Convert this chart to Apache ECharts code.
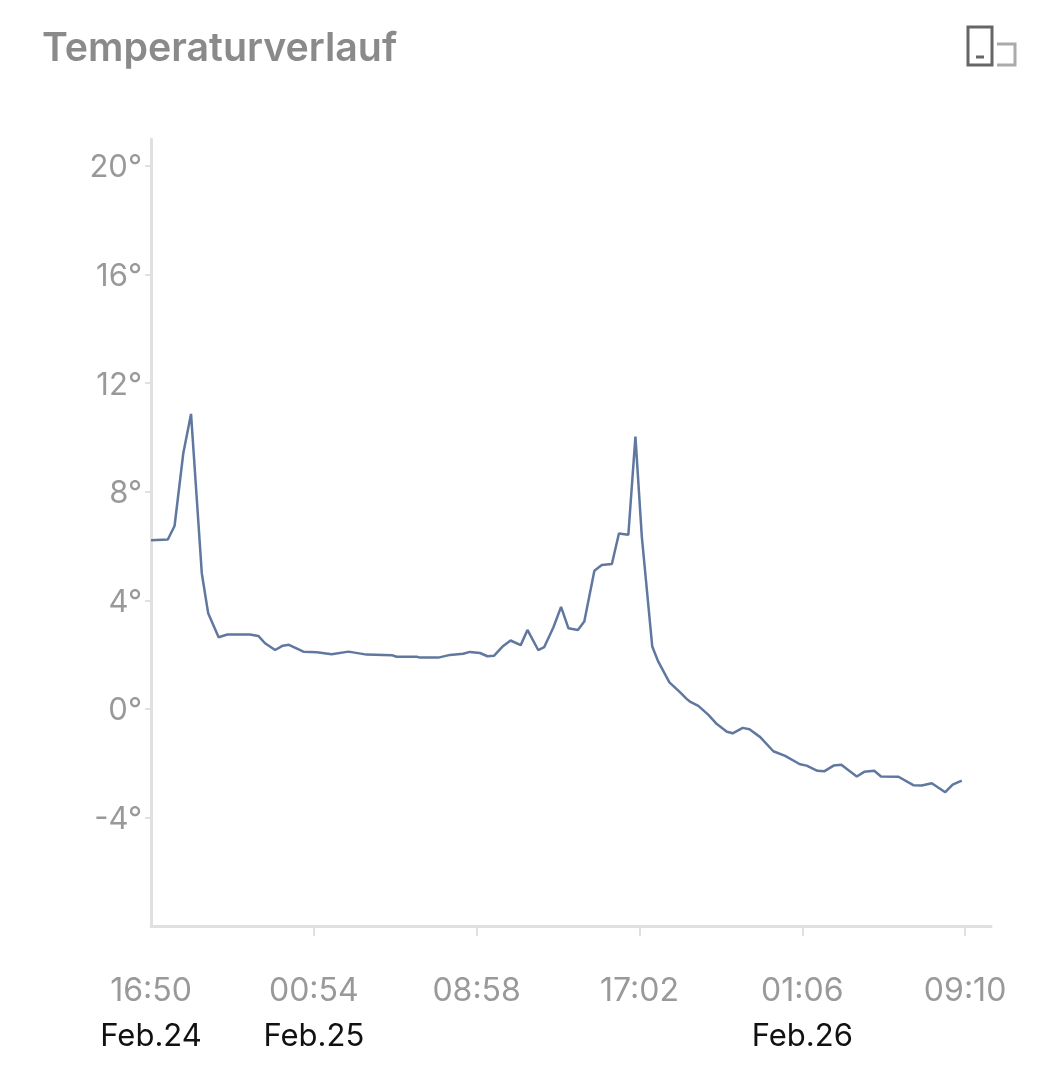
<!DOCTYPE html>
<html>
<head>
<meta charset="utf-8">
<style>
  html, body { margin: 0; padding: 0; background: #fff; }
  #chart { width: 1062px; height: 1080px; }
</style>
<script src="https://cdn.jsdelivr.net/npm/echarts@6/dist/echarts.min.js"></script>
</head>
<body>
<div id="chart"></div>
<script>
  // minutes since the first reading
  var minutes = [0, 50, 70, 96, 119, 151, 170, 201, 227, 294, 319, 339, 369, 392, 410, 453, 493, 537, 587, 641,
    716, 730, 790, 800, 854, 889, 928, 948, 978, 1000, 1020, 1047, 1069, 1099, 1119, 1151, 1169, 1196, 1219, 1241,
    1269, 1288, 1318, 1340, 1370, 1391, 1419, 1440, 1459, 1490, 1508, 1541, 1573, 1593, 1602, 1627, 1657, 1682,
    1712, 1729, 1759, 1779, 1811, 1850, 1885, 1929, 1949, 1981, 2001, 2029, 2052, 2098, 2120, 2150, 2170, 2222,
    2266, 2291, 2321, 2361, 2383, 2410];
  var temps = [6.21, 6.24, 6.74, 9.42, 10.87, 5.0, 3.52, 2.64, 2.74, 2.74, 2.69, 2.42, 2.17, 2.33, 2.36, 2.11, 2.09, 2.01, 2.11, 2.0,
    1.98, 1.92, 1.92, 1.89, 1.89, 1.99, 2.03, 2.1, 2.06, 1.94, 1.96, 2.32, 2.52, 2.35, 2.91, 2.17, 2.28, 3.0, 3.76, 2.97,
    2.91, 3.22, 5.09, 5.3, 5.34, 6.46, 6.42, 10.03, 6.35, 2.3, 1.74, 0.98, 0.61, 0.36, 0.27, 0.11, -0.22, -0.56,
    -0.84, -0.9, -0.7, -0.75, -1.04, -1.56, -1.73, -2.04, -2.09, -2.28, -2.3, -2.09, -2.06, -2.49, -2.32, -2.28, -2.49, -2.5,
    -2.81, -2.82, -2.74, -3.07, -2.79, -2.64];
  var xTicks = [0, 484, 968, 1452, 1936, 2420];
  var timeLabels = ['16:50', '00:54', '08:58', '17:02', '01:06', '09:10'];
  var dateLabels = ['Feb.24', 'Feb.25', '', '', 'Feb.26', ''];
  var yTicks = [-4, 0, 4, 8, 12, 16, 20];

  var font = 'Inter, Roboto, sans-serif';
  var chart = echarts.init(document.getElementById('chart'));

  var series = [];
  for (var i = 0; i < minutes.length; i++) {
    series.push([minutes[i], temps[i]]);
  }

  var option = {
    animation: false,
    backgroundColor: '#fff',
    title: {
      text: 'Temperaturverlauf',
      left: 37,
      top: 25,
      textStyle: { color: '#8a8a8a', fontSize: 39.3, fontWeight: 600, fontFamily: font }
    },
    grid: { left: 151, right: 71, top: 139, bottom: 154 },
    xAxis: {
      type: 'value',
      min: 0,
      max: 2497,
      splitLine: { show: false },
      axisLine: { onZero: false, lineStyle: { color: '#e0e0e0', width: 3 } },
      axisTick: { customValues: xTicks.slice(1), length: 10, lineStyle: { color: '#e0e0e0', width: 2 } },
      axisLabel: {
        customValues: xTicks,
        margin: 42,
        showMinLabel: true,
        showMaxLabel: true,
        hideOverlap: false,
        formatter: function (v) {
          var n = xTicks.indexOf(v);
          return '{t|' + timeLabels[n] + '}\n{d|' + (dateLabels[n] || ' ') + '}';
        },
        rich: {
          t: { fontSize: 32, color: '#999', fontFamily: font, lineHeight: 46 },
          d: { fontSize: 31, color: '#111', fontFamily: font, lineHeight: 46 }
        }
      }
    },
    yAxis: {
      type: 'value',
      min: -8,
      max: 21,
      splitLine: { show: false },
      axisLine: { show: true, onZero: false, lineStyle: { color: '#e0e0e0', width: 3 } },
      axisTick: { show: true, customValues: yTicks, length: 6, lineStyle: { color: '#e0e0e0', width: 2 } },
      axisLabel: {
        customValues: yTicks,
        margin: 9,
        formatter: '{v|{value}°}',
        rich: {
          v: { fontSize: 31, color: '#999', fontFamily: font, padding: [4, 0, 0, 0] }
        }
      }
    },
    series: [{
      type: 'line',
      data: series,
      showSymbol: false,
      smooth: false,
      lineStyle: { color: '#6077a0', width: 2.5 }
    }],
    graphic: [
      { type: 'rect', shape: { x: 968, y: 27, width: 24, height: 38 }, style: { fill: 'none', stroke: '#666', lineWidth: 3 } },
      { type: 'line', shape: { x1: 976, y1: 57, x2: 984, y2: 57 }, style: { stroke: '#666', lineWidth: 3 } },
      { type: 'polyline', shape: { points: [[997, 44], [1015, 44], [1015, 65], [997, 65]] }, style: { fill: 'none', stroke: '#aaa', lineWidth: 3 } }
    ]
  };

  chart.setOption(option);
</script>
</body>
</html>
